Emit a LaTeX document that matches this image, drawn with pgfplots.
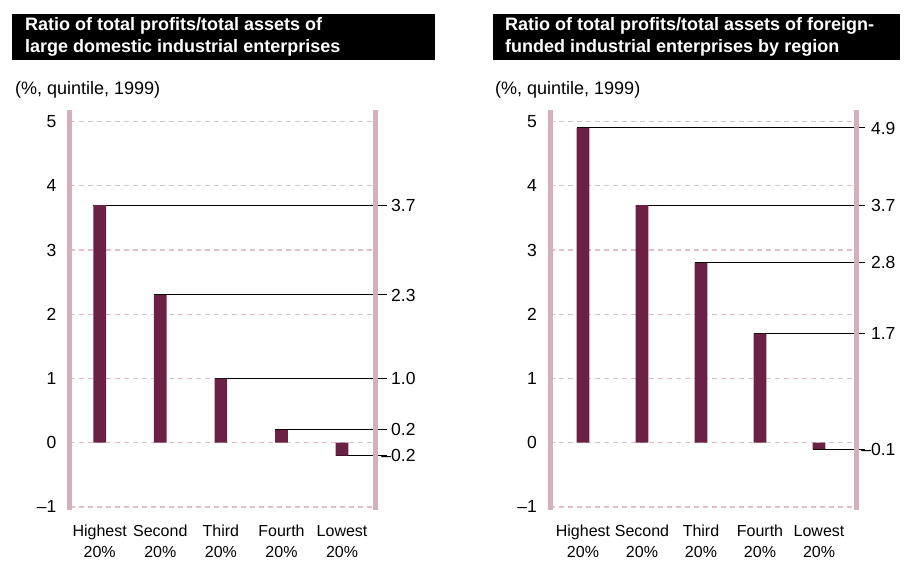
\documentclass[border=0pt]{standalone}
\usepackage{pgfplots}
\pgfplotsset{compat=1.18}
\usepackage{fontspec}
\setmainfont{Liberation Sans}

\definecolor{barred}{HTML}{6B2143}
\definecolor{axpink}{HTML}{D4B0BD}
\definecolor{gridpink}{HTML}{DEBFCB}

\pgfplotsset{
  quint/.style={
    scale only axis, height=400pt,
    anchor=south west,
    ymin=-1.047, ymax=5.18,
    ytick={-1,0,1,2,3,4,5},
    yticklabels={–1,0,1,2,3,4,5},
    xtick={0,1,2,3,4},
    xticklabels={Highest\\20\%,Second\\20\%,Third\\20\%,Fourth\\20\%,Lowest\\20\%},
    axis line style={draw=none},
    major tick length=0pt,
    ymajorgrids,
    grid style={gridpink, line width=1.4pt, dash pattern=on 5pt off 4pt},
    yticklabel style={font=\fontsize{17.5}{20}\selectfont, anchor=east, inner sep=0pt, xshift=-13pt},
    xticklabel style={font=\fontsize{16}{21}\selectfont, align=center, anchor=north, inner sep=0pt, yshift=-15pt},
    clip=false,
  },
  leader/.style={black, line width=1pt, mark=none},
  bars/.style={ybar, bar width=12.7pt, bar shift=0pt, fill=barred, draw=none},
  vals/.style={draw=none, mark=none, nodes near coords, point meta=explicit symbolic,
    nodes near coords style={anchor=west, inner sep=0pt, font=\fontsize{17.5}{20}\selectfont}},
}

\begin{document}
\begin{tikzpicture}
\path[use as bounding box] (0pt,0pt) rectangle (911pt,562pt);

% titles
\fill[black] (12pt,502pt) rectangle (435pt,548pt);
\fill[black] (493pt,502pt) rectangle (900pt,548pt);
\begin{scope}[every node/.style={anchor=base west, inner sep=0pt, text=white, font=\bfseries\fontsize{18}{22}\selectfont}]
\node at (25pt,531pt) {Ratio of total profits/total assets of};
\node at (25pt,509pt) {large domestic industrial enterprises};
\node at (505pt,531pt) {Ratio of total profits/total assets of foreign-};
\node at (505pt,509pt) {funded industrial enterprises by region};
\end{scope}
\node[anchor=base west, inner sep=0pt, font=\fontsize{18}{22}\selectfont] at (15pt,467pt) {(\%, quintile, 1999)};
\node[anchor=base west, inner sep=0pt, font=\fontsize{18}{22}\selectfont] at (495pt,467pt) {(\%, quintile, 1999)};

% left panel
\begin{axis}[quint, at={(69.5pt,52pt)}, width=305.5pt, xmin=-0.498, xmax=4.543]
\addplot[leader] coordinates {(-0.105,3.7) (4.741,3.7)};
\addplot[leader] coordinates {(0.895,2.3) (4.741,2.3)};
\addplot[leader] coordinates {(1.895,1.0) (4.741,1.0)};
\addplot[leader] coordinates {(2.895,0.2) (4.741,0.2)};
\addplot[leader] coordinates {(3.895,-0.2) (4.741,-0.2)};
\addplot[bars] coordinates {(0,3.7) (1,2.3) (2,1.0) (3,0.2) (4,-0.2)};
\addplot[vals] coordinates {(4.807,3.7)[3.7] (4.807,2.3)[2.3] (4.807,1.0)[1.0] (4.807,0.2)[0.2] (4.807,-0.2)[\llap{–}0.2]};
\draw[axpink, line width=5pt] (rel axis cs:0,0) -- (rel axis cs:0,1);
\draw[axpink, line width=5pt] (rel axis cs:1,0) -- (rel axis cs:1,1);
\end{axis}

% right panel
\begin{axis}[quint, at={(550pt,52pt)}, width=306pt, xmin=-0.559, xmax=4.627]
\addplot[leader] coordinates {(-0.108,4.9) (4.78,4.9)};
\addplot[leader] coordinates {(0.892,3.7) (4.78,3.7)};
\addplot[leader] coordinates {(1.892,2.8) (4.78,2.8)};
\addplot[leader] coordinates {(2.892,1.7) (4.78,1.7)};
\addplot[leader] coordinates {(3.892,-0.1) (4.78,-0.1)};
\addplot[bars] coordinates {(0,4.9) (1,3.7) (2,2.8) (3,1.7) (4,-0.1)};
\addplot[vals] coordinates {(4.88,4.9)[4.9] (4.88,3.7)[3.7] (4.88,2.8)[2.8] (4.88,1.7)[1.7] (4.88,-0.1)[\llap{–}0.1]};
\draw[axpink, line width=5pt] (rel axis cs:0,0) -- (rel axis cs:0,1);
\draw[axpink, line width=5pt] (rel axis cs:1,0) -- (rel axis cs:1,1);
\end{axis}
\end{tikzpicture}
\end{document}
